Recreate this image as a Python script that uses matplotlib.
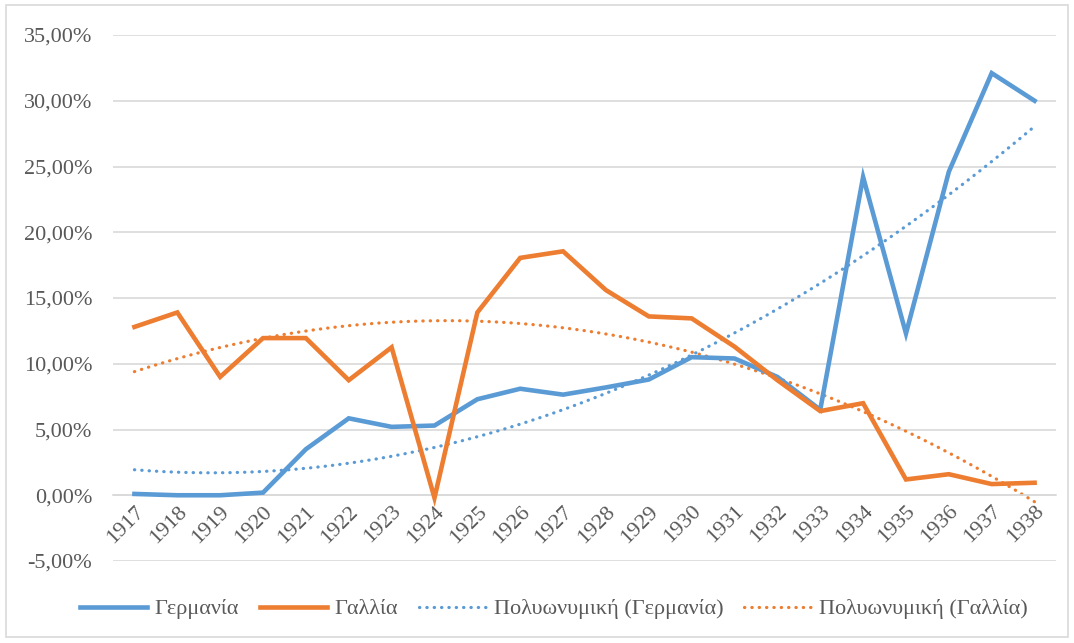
import matplotlib
matplotlib.use("Agg")
import matplotlib.pyplot as plt
import numpy as np
from matplotlib.ticker import FuncFormatter, MultipleLocator

years = list(range(1917, 1939))
germany = [0.1, 0.0, 0.0, 0.2, 3.5, 5.85, 5.2, 5.3, 7.3, 8.1, 7.65, 8.2, 8.8, 10.5,
           10.4, 9.0, 6.5, 24.2, 12.3, 24.6, 32.1, 30.0]
france = [12.8, 13.9, 9.0, 11.95, 11.95, 8.75, 11.25, -0.2, 13.9, 18.05, 18.55, 15.6,
          13.6, 13.45, 11.3, 8.75, 6.4, 7.0, 1.2, 1.6, 0.85, 0.95]
labels = ["Γερμανία", "Γαλλία", "Πολυωνυμική (Γερμανία)", "Πολυωνυμική (Γαλλία)"]

blue = "#5B9BD5"
orange = "#ED7D31"
txt = "#595959"
grid = "#D9D9D9"
fs = 16

plt.rcParams['font.family'] = ['Liberation Serif', 'DejaVu Serif']

fig = plt.figure(figsize=(10.74, 6.43), dpi=100)
ax = fig.add_axes([113/1074, 1 - 561/643, (1056-113)/1074, (561-35)/643])

x = np.arange(len(years))
xf = np.linspace(0, len(years) - 1, 200)
pg = np.polyfit(x, germany, 2)
pf = np.polyfit(x, france, 2)

ax.plot(x, germany, color=blue, lw=3.3, solid_joinstyle='miter', label=labels[0], zorder=3)
ax.plot(x, france, color=orange, lw=3.3, solid_joinstyle='miter', label=labels[1], zorder=3)
ax.plot(xf, np.polyval(pg, xf), color=blue, lw=2.3, ls=(0, (0.1, 2.2)),
        dash_capstyle='round', label=labels[2], zorder=2)
ax.plot(xf, np.polyval(pf, xf), color=orange, lw=2.3, ls=(0, (0.1, 2.2)),
        dash_capstyle='round', label=labels[3], zorder=2)

ax.set_xlim(-0.5, len(years) - 0.5)
ax.set_ylim(-5, 35)
ax.yaxis.set_major_locator(MultipleLocator(5))
ax.yaxis.set_major_formatter(FuncFormatter(lambda v, p: f"{v:.2f}%".replace('.', ',')))
ax.grid(axis='y', color=grid, lw=1.2)
ax.set_axisbelow(True)
for s in ['top', 'right', 'left']:
    ax.spines[s].set_visible(False)
ax.spines['bottom'].set_position(('data', 0))
ax.spines['bottom'].set_color(grid)
ax.spines['bottom'].set_linewidth(1.2)
ax.set_xticks(x)
ax.set_xticklabels([str(y) for y in years], rotation=45, ha='right',
                   rotation_mode='anchor', fontsize=fs, color=txt)
ax.tick_params(axis='x', length=0, pad=5)
ax.tick_params(axis='y', length=0, pad=15, labelsize=fs, labelcolor=txt)

leg = fig.legend(loc='center', bbox_to_anchor=(554/1074, 1 - 609/643), ncol=4, frameon=False,
                 fontsize=fs, labelcolor=txt, handlelength=3.0, columnspacing=0.95,
                 handletextpad=0.35)

# outer chart border
fig.patches.append(plt.Rectangle((6/1074, 1 - 637/643), (1068-6)/1074, (637-5)/643,
                                 transform=fig.transFigure, fill=False,
                                 edgecolor=grid, lw=1.2))

fig.savefig("out.png", dpi=100)
